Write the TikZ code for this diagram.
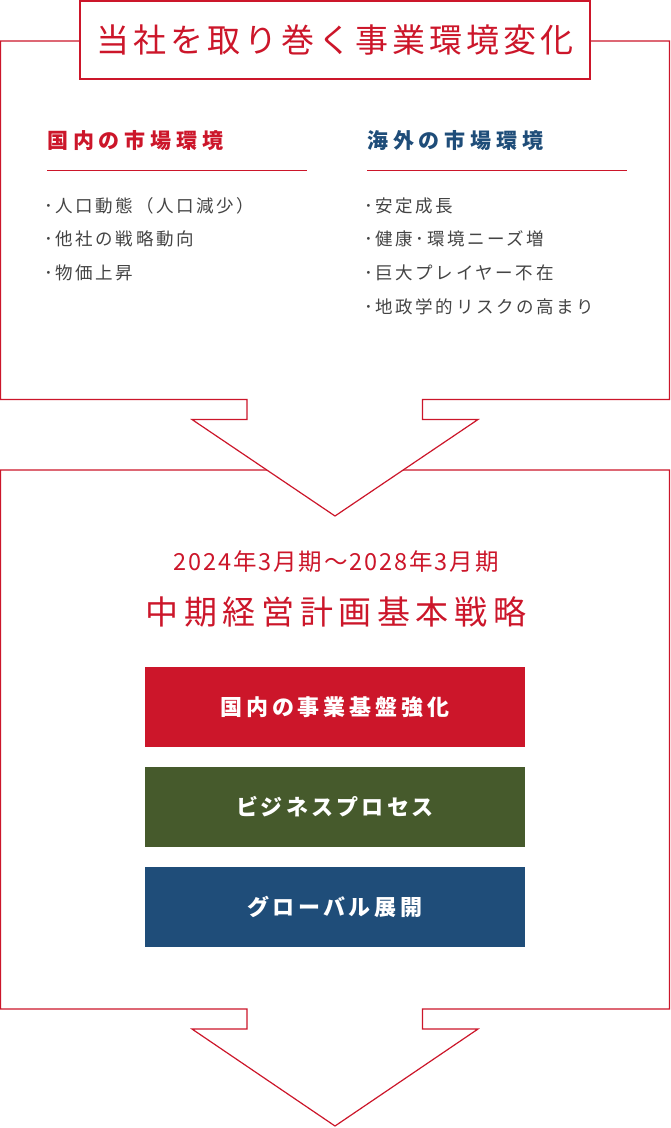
\documentclass[tikz,border=0pt]{standalone}
\usepackage{fontspec}
\newfontfamily\jptitle{Noto Sans CJK JP}[LetterSpace=12]
\newfontfamily\jphead{Noto Sans CJK JP}[LetterSpace=23]
\newfontfamily\jpitem{Noto Sans CJK JP}[LetterSpace=15]
\newfontfamily\jpdate{Noto Sans CJK JP}[LetterSpace=8]
\newfontfamily\jpmain{Noto Sans CJK JP}[LetterSpace=17]
\newfontfamily\jpbox{Noto Sans CJK JP}[LetterSpace=18,RawFeature=+palt]
\definecolor{myred}{RGB}{204,22,42}
\definecolor{myblue}{RGB}{31,77,121}
\definecolor{mygreen}{RGB}{70,90,44}
\definecolor{mygray}{RGB}{68,68,68}
\tikzset{
  frame/.style={draw=myred, line width=1.2pt, fill=white, line join=miter},
  heading/.style={anchor=west, inner sep=0pt, font=\jphead\bfseries\fontsize{21}{24}\selectfont},
  item/.style={anchor=west, inner sep=0pt, text=mygray, font=\jpitem\fontsize{17.5}{20}\selectfont},
  stratbox/.style={minimum width=380pt, minimum height=80pt, inner sep=0pt, text=white,
     font=\jpbox\bfseries\fontsize{22}{24}\selectfont},
}
\begin{document}
\begin{tikzpicture}[x=1pt,y=-1pt]
\useasboundingbox (0,0) rectangle (670,1128);
% second frame
\draw[frame] (0.6,470) -- (0.6,1009) -- (247,1009) -- (247,1029) -- (192,1029) -- (335,1126)
  -- (478,1029) -- (422.5,1029) -- (422.5,1009) -- (669.4,1009) -- (669.4,470) -- cycle;
% top frame
\draw[frame] (0.6,41) -- (0.6,399.5) -- (247,399.5) -- (247,419.5) -- (192,419.5) -- (335,516)
  -- (478,419.5) -- (422.5,419.5) -- (422.5,399.5) -- (669.4,399.5) -- (669.4,41) -- cycle;
% title box
\node[draw=myred, line width=1.2pt, fill=white, minimum width=510pt, minimum height=78pt,
  inner sep=0pt, text=myred, font=\jptitle\fontsize{33}{36}\selectfont] (title) at (335,40)
  {当社を取り巻く事業環境変化};
% headings
\node[heading, text=myred] (hl) at (47,141) {国内の市場環境};
\node[heading, text=myblue] (hr) at (367,141) {海外の市場環境};
\coordinate (ul1) at (47,170); \coordinate (ul2) at (307,170);
\coordinate (ur1) at (367,170); \coordinate (ur2) at (627,170);
\draw[myred, line width=1pt] (ul1) -- (ul2);
\draw[myred, line width=1pt] (ur1) -- (ur2);
% items
\node[item] (l1) at (44,206) {･人口動態（人口減少）};
\node[item] (l2) at (44,239) {･他社の戦略動向};
\node[item] (l3) at (44,273) {･物価上昇};
\node[item] (r1) at (364,206) {･安定成長};
\node[item] (r2) at (364,239) {･健康･環境ニーズ増};
\node[item] (r3) at (364,273) {･巨大プレイヤー不在};
\node[item] (r4) at (364,307) {･地政学的リスクの高まり};
% period and main title
\node[inner sep=0pt, text=myred, font=\jpdate\fontsize{23.5}{26}\selectfont] (date) at (336,562)
  {2024年3月期～2028年3月期};
\node[inner sep=0pt, text=myred, font=\jpmain\fontsize{33}{36}\selectfont] (main) at (336,612)
  {中期経営計画基本戦略};
% strategy boxes
\node[stratbox, fill=myred] (b1) at (335,707) {国内の事業基盤強化};
\node[stratbox, fill=mygreen] (b2) at (335,807) {ビジネスプロセス};
\node[stratbox, fill=myblue] (b3) at (335,907) {グローバル展開};
\end{tikzpicture}
\end{document}
